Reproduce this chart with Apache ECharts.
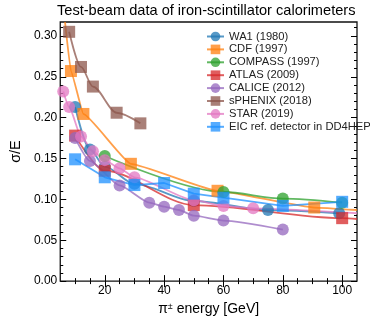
<!DOCTYPE html>
<html><head><meta charset="utf-8">
<script src="https://cdn.jsdelivr.net/npm/echarts@6/dist/echarts.min.js"></script>
<style>html,body{margin:0;padding:0;background:#fff}#c{width:370px;height:321px}</style>
</head><body><div id="c"></div>
<script>
// ---- data ----
const wa1X = [10, 15, 20, 30, 50, 75, 99];
const wa1Y = [0.213, 0.161, 0.140, 0.119, 0.098, 0.087, 0.083];
const cdfX = [8.6, 12.8, 28.8, 58, 90.6];
const cdfY = [0.257, 0.2045, 0.1435, 0.1105, 0.090];
const cdfFitStart = [6.6, 0.317];
const cdfFitEnd = [105, 0.087];
const compassX = [20, 60, 80, 100];
const compassY = [0.153, 0.109, 0.101, 0.096];
const atlasX = [10, 20, 50, 100];
const atlasY = [0.178, 0.135, 0.093, 0.077];
const atlasFitEnd = [105, 0.076];
const caliceX = [10, 15, 25, 35, 40, 45, 50, 60, 80];
const caliceY = [0.175, 0.147, 0.117, 0.096, 0.091, 0.087, 0.080, 0.074, 0.063];
const sphenixX = [8, 12, 16, 24, 32];
const sphenixY = [0.305, 0.262, 0.238, 0.206, 0.193];
const starX = [6, 8, 12, 16, 20, 25, 30, 50, 60, 70];
const starY = [0.232, 0.213, 0.177, 0.159, 0.148, 0.138, 0.127, 0.099, 0.092, 0.089];
const starFitEnd = [105, 0.083];
const eicX = [10, 20, 30, 40, 50, 60, 80, 100];
const eicY = [0.149, 0.127, 0.1175, 0.120, 0.107, 0.102, 0.092, 0.097];

const xMajor = [20, 40, 60, 80, 100];
const xMinor = [10, 15, 25, 30, 35, 45, 50, 55, 65, 70, 75, 85, 90, 95];
const yMajor = [0, 0.05, 0.10, 0.15, 0.20, 0.25, 0.30];
const yMinor = [0.01,0.02,0.03,0.04,0.06,0.07,0.08,0.09,0.11,0.12,0.13,0.14,0.16,0.17,0.18,0.19,0.21,0.22,0.23,0.24,0.26,0.27,0.28,0.29,0.31];

// ---- build ----
function pts(xs, ys) { return xs.map((x, i) => [x, ys[i]]); }
function ext(p) { return { value: p, symbol: 'none' }; }

function mk(name, color, symbol, data, smooth) {
  return {
    name, type: 'line', data, symbol, symbolSize: 12,
    smooth: smooth, smoothMonotone: 'x',
    itemStyle: { color, opacity: 0.75 },
    lineStyle: { color, width: 1.8, opacity: 0.75 },
    emphasis: { disabled: true },
    clip: true, z: 2
  };
}

const series = [
  mk('WA1 (1980)', '#1f77b4', 'circle', pts(wa1X, wa1Y), 0.3),
  mk('CDF (1997)', '#ff7f0e', 'rect', [ext(cdfFitStart), ...pts(cdfX, cdfY), ext(cdfFitEnd)], 0.12),
  mk('COMPASS (1997)', '#2ca02c', 'circle', pts(compassX, compassY), 0.3),
  mk('ATLAS (2009)', '#d62728', 'rect', [...pts(atlasX, atlasY), ext(atlasFitEnd)], 0.3),
  mk('CALICE (2012)', '#9467bd', 'circle', pts(caliceX, caliceY), 0.2),
  mk('sPHENIX (2018)', '#8c564b', 'rect', pts(sphenixX, sphenixY), 0.3),
  mk('STAR (2019)', '#e377c2', 'circle', [...pts(starX, starY), ext(starFitEnd)], 0.2),
  mk('EIC ref. detector in DD4HEP', '#1e90ff', 'rect', pts(eicX, eicY), false)
];

const FONT = 'Liberation Sans';
const axBase = { type: 'value', min: 5, max: 105, splitLine: { show: false }, axisLine: { show: false } };
const ayBase = { type: 'value', min: 0, max: 0.317, splitLine: { show: false }, axisLine: { show: false } };
const tickStyle = { color: '#000', width: 1 };

const option = {
  backgroundColor: '#fff',
  animation: false,
  title: {
    text: 'Test-beam data of iron-scintillator calorimeters',
    left: 57, top: 3, padding: 0,
    textStyle: { fontFamily: FONT, fontSize: 14.6, fontWeight: 'normal', color: '#000' }
  },
  legend: {
    orient: 'vertical', left: 201, top: 26, itemWidth: 17, itemHeight: 12, itemGap: 1.9,
    textStyle: { fontFamily: FONT, fontSize: 11.2, color: '#222' },
    data: series.map(s => s.name)
  },
  grid: { left: 56, right: 13, top: 22, bottom: 39, show: true, borderColor: '#111', borderWidth: 1.3, backgroundColor: 'transparent' },
  xAxis: [
    Object.assign({}, axBase, {
      position: 'bottom',
      name: 'π{sup|±} energy [GeV]', nameLocation: 'middle', nameGap: 17,
      nameTextStyle: { fontFamily: FONT, fontSize: 14, color: '#000',
        rich: { sup: { fontFamily: FONT, fontSize: 9, color: '#000', verticalAlign: 'top', padding: [0, 0, 5, 0] } } },
      axisTick: { inside: true, length: 6, lineStyle: tickStyle, customValues: xMajor },
      axisLabel: { fontFamily: FONT, fontSize: 12, color: '#000', margin: 4, customValues: xMajor }
    }),
    Object.assign({}, axBase, { position: 'bottom', axisTick: { inside: true, length: 3, lineStyle: tickStyle, customValues: xMinor }, axisLabel: { show: false } }),
    Object.assign({}, axBase, { position: 'top', axisTick: { inside: true, length: 6, lineStyle: tickStyle, customValues: xMajor }, axisLabel: { show: false } }),
    Object.assign({}, axBase, { position: 'top', axisTick: { inside: true, length: 3, lineStyle: tickStyle, customValues: xMinor }, axisLabel: { show: false } })
  ],
  yAxis: [
    Object.assign({}, ayBase, {
      position: 'left',
      name: 'σ/E', nameLocation: 'middle', nameGap: 27, nameRotate: 90,
      nameTextStyle: { fontFamily: FONT, fontSize: 14.5, color: '#000' },
      axisTick: { inside: true, length: 6, lineStyle: tickStyle, customValues: yMajor },
      axisLabel: { fontFamily: FONT, fontSize: 12, color: '#000', margin: 3, customValues: yMajor, formatter: v => v.toFixed(2) }
    }),
    Object.assign({}, ayBase, { position: 'left', axisTick: { inside: true, length: 3, lineStyle: tickStyle, customValues: yMinor }, axisLabel: { show: false } }),
    Object.assign({}, ayBase, { position: 'right', axisTick: { inside: true, length: 6, lineStyle: tickStyle, customValues: yMajor }, axisLabel: { show: false } }),
    Object.assign({}, ayBase, { position: 'right', axisTick: { inside: true, length: 3, lineStyle: tickStyle, customValues: yMinor }, axisLabel: { show: false } })
  ],
  series
};

const chart = echarts.init(document.getElementById('c'), null, { renderer: 'canvas' });
chart.setOption(option);
</script>
</body></html>
